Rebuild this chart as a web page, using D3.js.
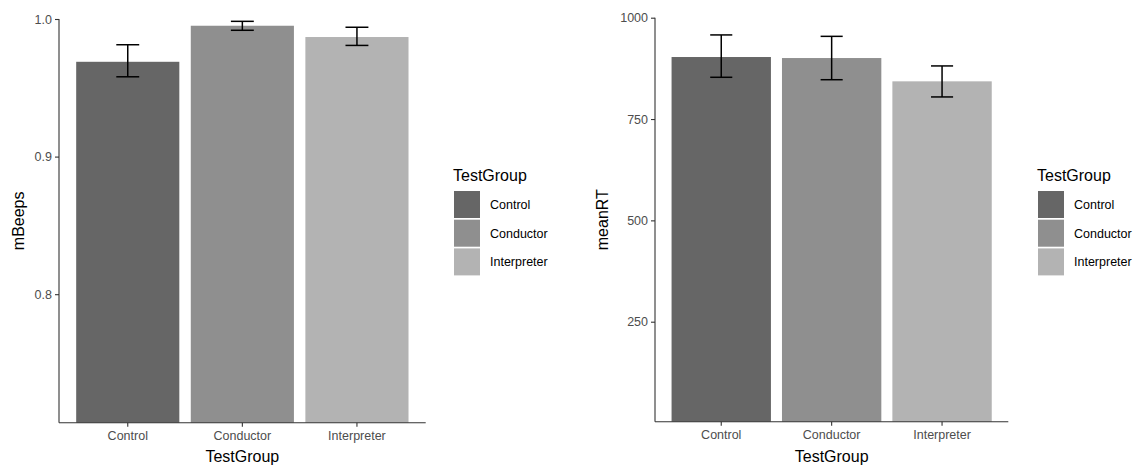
<!DOCTYPE html>
<html>
<head>
<meta charset="utf-8">
<script src="https://cdnjs.cloudflare.com/ajax/libs/d3/7.8.5/d3.min.js"></script>
<style>
body { margin: 0; background: #fff; }
text { font-family: "Liberation Sans", Arial, sans-serif; }
</style>
</head>
<body>
<div id="chart"></div>
<script>
// data
var groups = ["Control", "Conductor", "Interpreter"];
var beepMean = [0.9689, 0.9951, 0.9869];
var beepLow = [0.9580, 0.9918, 0.9808];
var beepHigh = [0.9813, 0.9983, 0.9940];
var beepTicks = [0.8, 0.9, 1.0];
var rtMean = [903, 900.5, 843];
var rtLow = [853, 847, 804.5];
var rtHigh = [957.5, 954, 881];
var rtTicks = [250, 500, 750, 1000];
var fills = ["#666666", "#8f8f8f", "#b3b3b3"];

var svg = d3.select('#chart').append('svg')
	.attr('width', 1141)
	.attr('height', 465);

function drawPanel(p) {
	// ggplot-like discrete axis: 0.6 of a step on each side of the centres, bars 0.9 wide
	var x = d3.scaleBand()
		.domain(groups)
		.range([p.left, p.right])
		.paddingInner(0.1)
		.paddingOuter(0.15);
	var bw = x.bandwidth();
	var step = x.step();
	var cx = function(d) { return x(d) + bw / 2; };

	var y = d3.scaleLinear().domain(p.domain).range([p.bottom, p.top0]);

	var g = svg.append('g');

	g.selectAll('rect.bar')
		.data(groups)
		.enter().append('rect')
		.attr('class', 'bar')
		.attr('x', function(d) { return x(d); })
		.attr('y', function(d, i) { return y(p.mean[i]); })
		.attr('width', bw)
		.attr('height', function(d, i) { return p.bottom - y(p.mean[i]); })
		.style('fill', function(d, i) { return fills[i]; });

	// error bars
	var cap = step * 0.1;
	var eb = g.selectAll('g.err')
		.data(groups)
		.enter().append('g')
		.attr('class', 'err')
		.style('stroke', '#000')
		.style('stroke-width', 1.5);
	eb.append('line')
		.attr('x1', cx)
		.attr('x2', cx)
		.attr('y1', function(d, i) { return y(p.low[i]); })
		.attr('y2', function(d, i) { return y(p.high[i]); });
	eb.append('line')
		.attr('x1', function(d) { return cx(d) - cap; })
		.attr('x2', function(d) { return cx(d) + cap; })
		.attr('y1', function(d, i) { return y(p.low[i]); })
		.attr('y2', function(d, i) { return y(p.low[i]); });
	eb.append('line')
		.attr('x1', function(d) { return cx(d) - cap; })
		.attr('x2', function(d) { return cx(d) + cap; })
		.attr('y1', function(d, i) { return y(p.high[i]); })
		.attr('y2', function(d, i) { return y(p.high[i]); });

	// y axis
	var yAxis = d3.axisLeft(y).tickValues(p.ticks).tickSize(4).tickPadding(3)
		.tickFormat(p.fmt);
	var ya = g.append('g')
		.attr('transform', 'translate(' + p.left + ',0)')
		.call(yAxis);
	ya.select('.domain').remove();
	ya.append('line')
		.attr('x1', 0).attr('x2', 0)
		.attr('y1', y(p.domain[1])).attr('y2', p.bottom)
		.style('stroke', '#333').style('stroke-width', 1.1);
	ya.selectAll('.tick line').style('stroke', '#333').style('stroke-width', 1.1);
	ya.selectAll('text').style('fill', '#4d4d4d').style('font-size', '12.5px');

	// x axis
	var xAxis = d3.axisBottom(x).tickSize(4).tickPadding(4);
	var xa = g.append('g')
		.attr('transform', 'translate(0,' + p.bottom + ')')
		.call(xAxis);
	xa.select('.domain').remove();
	xa.append('line')
		.attr('x1', p.left).attr('x2', p.right)
		.attr('y1', 0).attr('y2', 0)
		.style('stroke', '#333').style('stroke-width', 1.1);
	xa.selectAll('.tick line').style('stroke', '#333').style('stroke-width', 1.1);
	xa.selectAll('text').style('fill', '#4d4d4d').style('font-size', '12.5px');

	// titles
	g.append('text')
		.attr('x', (p.left + p.right) / 2)
		.attr('y', 462)
		.attr('text-anchor', 'middle')
		.style('font-size', '16px')
		.text('TestGroup');
	g.append('text')
		.attr('transform', 'translate(' + p.ytx + ',' + ((p.top0 + p.bottom) / 2) + ') rotate(-90)')
		.attr('text-anchor', 'middle')
		.style('font-size', '16px')
		.text(p.ylab);

	// legend
	var lg = g.append('g').attr('transform', 'translate(' + p.legX + ',0)');
	lg.append('text')
		.attr('x', 0).attr('y', 181)
		.style('font-size', '16px')
		.text('TestGroup');
	var items = lg.selectAll('g.item')
		.data(groups)
		.enter().append('g')
		.attr('class', 'item')
		.attr('transform', function(d, i) { return 'translate(0,' + (191 + i * 28.7) + ')'; });
	items.append('rect')
		.attr('x', 1).attr('y', 0)
		.attr('width', 26).attr('height', 27)
		.style('fill', function(d, i) { return fills[i]; });
	items.append('text')
		.attr('x', 37).attr('y', 13.5)
		.attr('dy', '0.35em')
		.style('font-size', '12.5px')
		.text(function(d) { return d; });
}

drawPanel({
	left: 59, right: 425.7, bottom: 422.7, top0: 19,
	domain: [0.7066, 1.0],
	mean: beepMean, low: beepLow, high: beepHigh,
	ticks: beepTicks, fmt: d3.format('.1f'),
	ylab: 'mBeeps', ytx: 24, legX: 453
});

drawPanel({
	left: 655, right: 1008.3, bottom: 421.7, top0: 17.7,
	domain: [3.3, 1000],
	mean: rtMean, low: rtLow, high: rtHigh,
	ticks: rtTicks, fmt: d3.format('d'),
	ylab: 'meanRT', ytx: 608, legX: 1037
});
</script>
</body>
</html>
